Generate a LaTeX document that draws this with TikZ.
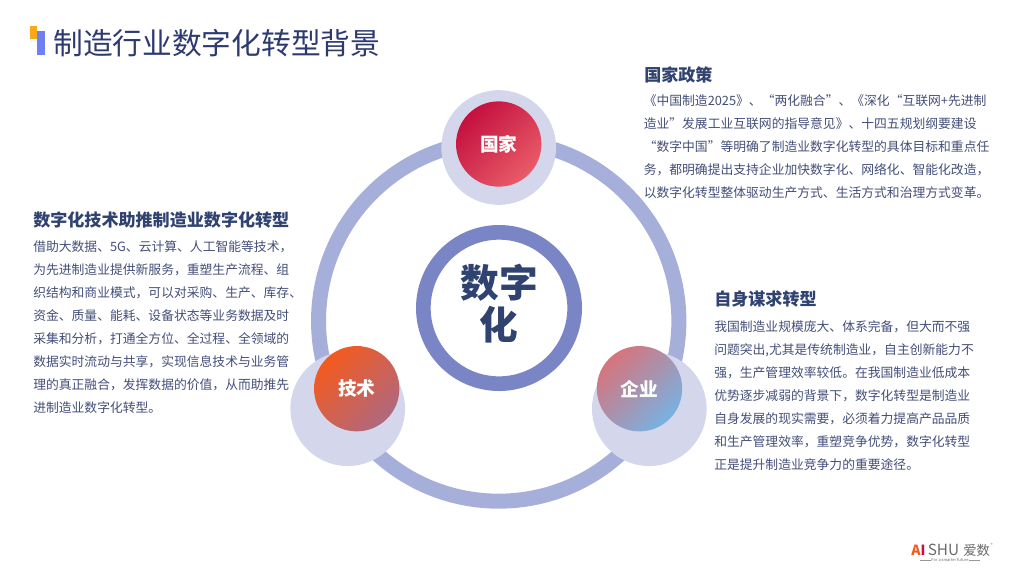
\documentclass[tikz,border=0pt]{standalone}
\usepackage{fontspec}
\setmainfont{Noto Sans CJK SC}
\newfontfamily\cjk{Noto Sans CJK SC}
\usepackage{tikz}
\usetikzlibrary{positioning, shapes.geometric, calc}
\definecolor{titlenavy}{HTML}{2C3A70}
\definecolor{headnavy}{HTML}{2F4270}
\definecolor{bodynavy}{HTML}{434E78}
\definecolor{ringblue}{HTML}{A6AFD9}
\definecolor{coreblue}{HTML}{7A85C5}
\definecolor{paleblue}{HTML}{D4D7EC}
\definecolor{barorange}{HTML}{F9A81C}
\definecolor{barblue}{HTML}{6F80F2}
\definecolor{logogray}{HTML}{6A6A6A}
\definecolor{ballred}{HTML}{C4103F}
\definecolor{ballrose}{HTML}{E85C68}
\definecolor{ballflame}{HTML}{F45A1E}
\definecolor{ballmauve}{HTML}{B0687F}
\definecolor{ballpink}{HTML}{D6747C}
\definecolor{ballmid}{HTML}{AE8CA6}
\definecolor{ballsky}{HTML}{78B2E2}
\tikzset{
    ringnode/.style={circle,draw=#1,fill=none,inner sep=0pt},
    halo/.style={circle,fill=paleblue,minimum size=86pt,inner sep=0pt},
    ball/.style={circle,minimum size=64pt,inner sep=0pt,text=white,font=\cjk\fontsize{14}{16}\selectfont\bfseries},
    headtext/.style={anchor=west,inner sep=0pt,text=headnavy,font=\cjk\fontsize{12.8}{15}\selectfont\bfseries},
    bodytext/.style={anchor=north west,inner sep=0pt,align=left,text=bodynavy,font=\cjk\fontsize{9.6}{17.25}\selectfont},
    logotext/.style={anchor=west,inner sep=0pt,text=logogray,font=\cjk\fontsize{#1}{12}\selectfont}
}
\begin{document}
\begin{tikzpicture}[x=0.75pt,y=-0.75pt]
    \useasboundingbox (0,0) rectangle (1024,576);

    % Title
    \fill[barorange] (30,26) rectangle (37,39);
    \fill[barblue] (37,31) rectangle (44.5,55);
    \node[anchor=west,inner sep=0pt,text=titlenavy,font=\cjk\fontsize{22.3}{26}\selectfont] (title) at (53,43) {制造行业数字化转型背景};

    % Rings
    \node[ringnode=ringblue,line width=11.25pt,minimum size=270.25pt] (bigring) at (498.7,321) {};
    \node[ringnode=coreblue,line width=11pt,minimum size=113.5pt] (corering) at (499,308) {};
    \node[align=center,inner sep=0pt,text=headnavy,font=\cjk\fontsize{29}{31.5}\selectfont\bfseries] (core) at (499,304) {数字\\化};

    % Halos
    \node[halo] (halotop) at (498.7,147.5) {};
    \node[halo] (haloleft) at (347.7,408.7) {};
    \node[halo] (haloright) at (649.3,408.7) {};

    % Balls
    \node[ball,left color=ballred,right color=ballrose,shading angle=45] (guojia) at (498.7,144) {国家};
    \node[ball,left color=ballflame,right color=ballmauve,shading angle=45] (jishu) at (356.7,388.7) {技术};
    \node[ball,left color=ballpink,middle color=ballmid,right color=ballsky,shading angle=45] (qiye) at (639.5,388.7) {企业};

    % Policy block
    \node[headtext] (policyhead) at (644,75) {国家政策};
    \node[bodytext] (policybody) at (643.5,94) {《中国制造2025》、“两化融合”、《深化“互联网+先进制\\造业”发展工业互联网的指导意见》、十四五规划纲要建设\\“数字中国”等明确了制造业数字化转型的具体目标和重点任\\务，都明确提出支持企业加快数字化、网络化、智能化改造，\\以数字化转型整体驱动生产方式、生活方式和治理方式变革。};

    % Technology block
    \node[headtext] (techhead) at (33,220) {数字化技术助推制造业数字化转型};
    \node[bodytext] (techbody) at (33,240.9) {借助大数据、5G、云计算、人工智能等技术，\\为先进制造业提供新服务，重塑生产流程、组\\织结构和商业模式，可以对采购、生产、库存、\\资金、质量、能耗、设备状态等业务数据及时\\采集和分析，打通全方位、全过程、全领域的\\数据实时流动与共享，实现信息技术与业务管\\理的真正融合，发挥数据的价值，从而助推先\\进制造业数字化转型。};

    % Enterprise block
    \node[headtext] (selfhead) at (714,299.3) {自身谋求转型};
    \node[bodytext] (selfbody) at (714,320) {我国制造业规模庞大、体系完备，但大而不强\\问题突出,尤其是传统制造业，自主创新能力不\\强，生产管理效率较低。在我国制造业低成本\\优势逐步减弱的背景下，数字化转型是制造业\\自身发展的现实需要，必须着力提高产品品质\\和生产管理效率，重塑竞争优势，数字化转型\\正是提升制造业竞争力的重要途径。};

    % Logo
    \node[logotext=10,font=\cjk\fontsize{10.5}{12}\selectfont\bfseries] (logoai) at (911,550) {\textcolor{ballflame}{A}\textcolor{ballred}{I}};
    \node[logotext=11.5] (logoshu) at (927.5,550) {SHU};
    \node[logotext=10] (logoname) at (963,550) {爱数};
    \node[logotext=3] (logomark) at (990.5,545) {®};
    \node[inner sep=0pt,text=logogray,font=\cjk\fontsize{3}{4}\selectfont] (logotag) at (950,560) {For a smarter future};
    \draw[logogray!70,line width=0.3pt] (logotag.west) -- ++(-11,0);
    \draw[logogray!70,line width=0.3pt] (logotag.east) -- ++(11,0);
\end{tikzpicture}
\end{document}
